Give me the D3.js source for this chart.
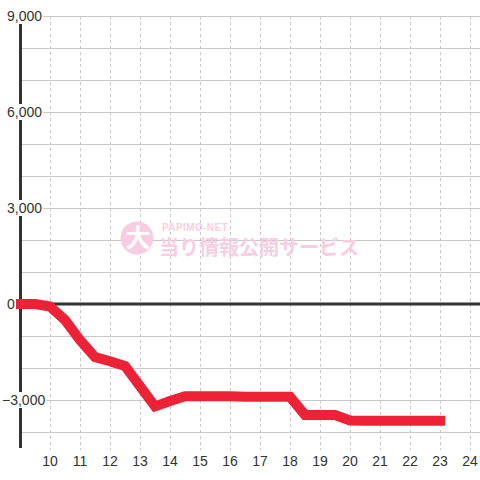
<!DOCTYPE html>
<html><head><meta charset="utf-8">
<script src="https://cdn.jsdelivr.net/npm/d3@7"></script>
<style>html,body{margin:0;padding:0;background:#fff;}svg{display:block;}</style>
</head><body>
<script>
const hours = [9,9.5,10,10.5,11,11.5,12,12.5,13,13.5,14,14.5,15,15.5,16,16.5,17,17.5,18,18.5,19,19.5,20,20.5,21,21.5,22,22.5,23];
const values = [0,0,-80,-500,-1130,-1660,-1790,-1940,-2570,-3200,-3030,-2880,-2880,-2880,-2880,-2900,-2900,-2900,-2900,-3470,-3470,-3470,-3640,-3650,-3650,-3650,-3650,-3650,-3650];
const xTicks = [10,11,12,13,14,15,16,17,18,19,20,21,22,23,24];
const yLabels = [9000,6000,3000,0,-3000];
const yGrid = d3.range(-4000, 9001, 1000);

const W = 480, H = 480;
const svg = d3.select("body").append("svg").attr("width", W).attr("height", H);
svg.append("rect").attr("width", W).attr("height", H).attr("fill", "#fff");

const x = d3.scaleLinear().domain([9, 24.3333]).range([20, 480]);
const y = d3.scaleLinear().domain([-4500, 9000]).range([448, 16]);
const font = "'Liberation Sans', Arial, sans-serif";

// horizontal grid
svg.append("g").selectAll("line").data(yGrid).join("line")
  .attr("x1", 20).attr("x2", 480)
  .attr("y1", d => y(d) + 0.5).attr("y2", d => y(d) + 0.5)
  .attr("stroke", "#c8c8c8").attr("stroke-width", 1);

// vertical dashed grid
svg.append("g").selectAll("line").data(xTicks).join("line")
  .attr("x1", d => Math.round(x(d)) + 0.5).attr("x2", d => Math.round(x(d)) + 0.5)
  .attr("y1", 16).attr("y2", 450)
  .attr("stroke", "#c8c8c8").attr("stroke-width", 1).attr("stroke-dasharray", "3,3");

// watermark
const pink = "#f9cde1";
const wm = svg.append("g");
wm.append("circle").attr("cx", 137).attr("cy", 238).attr("r", 16.5).attr("fill", pink);
wm.append("text").attr("x", 138).attr("y", 247).attr("text-anchor", "middle")
  .attr("font-family", "'Noto Sans CJK JP', sans-serif").attr("font-weight", "bold")
  .attr("font-size", 25).attr("fill", "#ffffff").text("大");
wm.append("text").attr("x", 162).attr("y", 231)
  .attr("font-family", font).attr("font-weight", "bold").attr("font-size", 10)
  .attr("letter-spacing", 0.4).attr("fill", pink).text("PAPIMO-NET");
wm.append("text").attr("x", 159).attr("y", 255)
  .attr("font-family", "'Noto Sans CJK JP', sans-serif").attr("font-weight", "bold")
  .attr("font-size", 20).attr("fill", pink).text("当り情報公開サービス");

// y axis line
svg.append("line").attr("x1", 20.5).attr("x2", 20.5).attr("y1", 16).attr("y2", 448)
  .attr("stroke", "#333").attr("stroke-width", 3);

// zero line
svg.append("line").attr("x1", 20).attr("x2", 480).attr("y1", y(0)).attr("y2", y(0))
  .attr("stroke", "#333").attr("stroke-width", 3);

// data line
const line = d3.line().x((d, i) => x(hours[i])).y(d => y(d));
svg.append("path").datum(values).attr("d", line)
  .attr("fill", "none").attr("stroke", "#ee2236").attr("stroke-width", 10)
  .attr("stroke-linejoin", "miter").attr("stroke-linecap", "square");

// y labels with background
const yl = svg.append("g").selectAll("g").data(yLabels).join("g");
yl.append("text")
  .attr("x", d => d < 0 ? 2 : 7).attr("y", d => y(d) + 5)
  .attr("font-family", font).attr("font-size", 14).attr("fill", "#333")
  .text(d => d3.format(",")(d));
yl.each(function() {
  const g = d3.select(this);
  const b = g.select("text").node().getBBox();
  g.insert("rect", "text").attr("x", b.x - 1).attr("y", b.y).attr("width", b.width + 2).attr("height", b.height)
    .attr("fill", "#fff");
});

// x labels
svg.append("g").selectAll("text").data(xTicks).join("text")
  .attr("x", d => x(d)).attr("y", 466).attr("text-anchor", "middle")
  .attr("font-family", font).attr("font-size", 14).attr("fill", "#333")
  .text(d => d);
</script>
</body></html>
